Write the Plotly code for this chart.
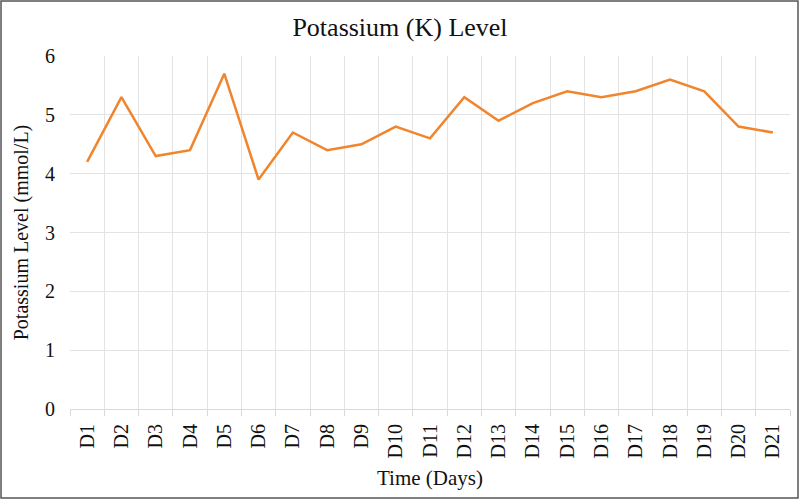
import plotly.graph_objects as go

days = [f"D{i}" for i in range(1, 22)]
potassium = [4.2, 5.3, 4.3, 4.4, 5.7, 3.9, 4.7, 4.4, 4.5, 4.8, 4.6,
             5.3, 4.9, 5.2, 5.4, 5.3, 5.4, 5.6, 5.4, 4.8, 4.7]
y_ticks = [0, 1, 2, 3, 4, 5, 6]

FONT = "Liberation Serif, Times New Roman, serif"
ML, MR, MT, MB = 70, 10, 56, 91
W, H = 800, 500
pw, ph = W - ML - MR, H - MT - MB

fig = go.Figure()
fig.add_trace(go.Scatter(
    x=days, y=potassium, mode="lines",
    line=dict(color="#F0852D", width=2.5),
    showlegend=False,
))

fig.update_layout(
    width=W, height=H,
    margin=dict(l=ML, r=MR, t=MT, b=MB),
    paper_bgcolor="white", plot_bgcolor="white",
    font=dict(family=FONT, color="#111111", size=20),
    title=dict(text="Potassium (K) Level", x=0.5, xanchor="center",
               y=1 - 27 / H, yanchor="middle",
               font=dict(family=FONT, size=26, color="#111111")),
    xaxis=dict(
        type="category", tickson="boundaries",
        showgrid=True, gridcolor="#e3e3e3", gridwidth=1,
        ticks="outside", ticklen=6, tickcolor="#d9d9d9",
        tickangle=-90, tickfont=dict(size=20), ticklabelstandoff=6,
        showline=True, linecolor="#d9d9d9",
        title=dict(text="Time (Days)", font=dict(size=21), standoff=12),
        range=[-0.5, 20.5], zeroline=False,
    ),
    yaxis=dict(
        range=[0, 6], tickvals=y_ticks,
        showgrid=True, gridcolor="#e3e3e3", gridwidth=1,
        zeroline=False, ticks="", tickfont=dict(size=20), ticklabelstandoff=14,
        title=dict(text="Potassium Level (mmol/L)", font=dict(size=20), standoff=11),
    ),
)

# chart border
fig.add_shape(type="rect", xref="paper", yref="paper",
              x0=(1 - ML) / pw, x1=(W - 2 - ML) / pw,
              y0=(H - MB - (H - 2)) / ph, y1=(H - MB - 1) / ph,
              line=dict(color="#555555", width=1.5), fillcolor="rgba(0,0,0,0)",
              layer="above")

fig.write_html("out.html",
               config={"displayModeBar": False},
               post_script="document.body.style.margin='0';document.body.style.overflow='hidden';")
